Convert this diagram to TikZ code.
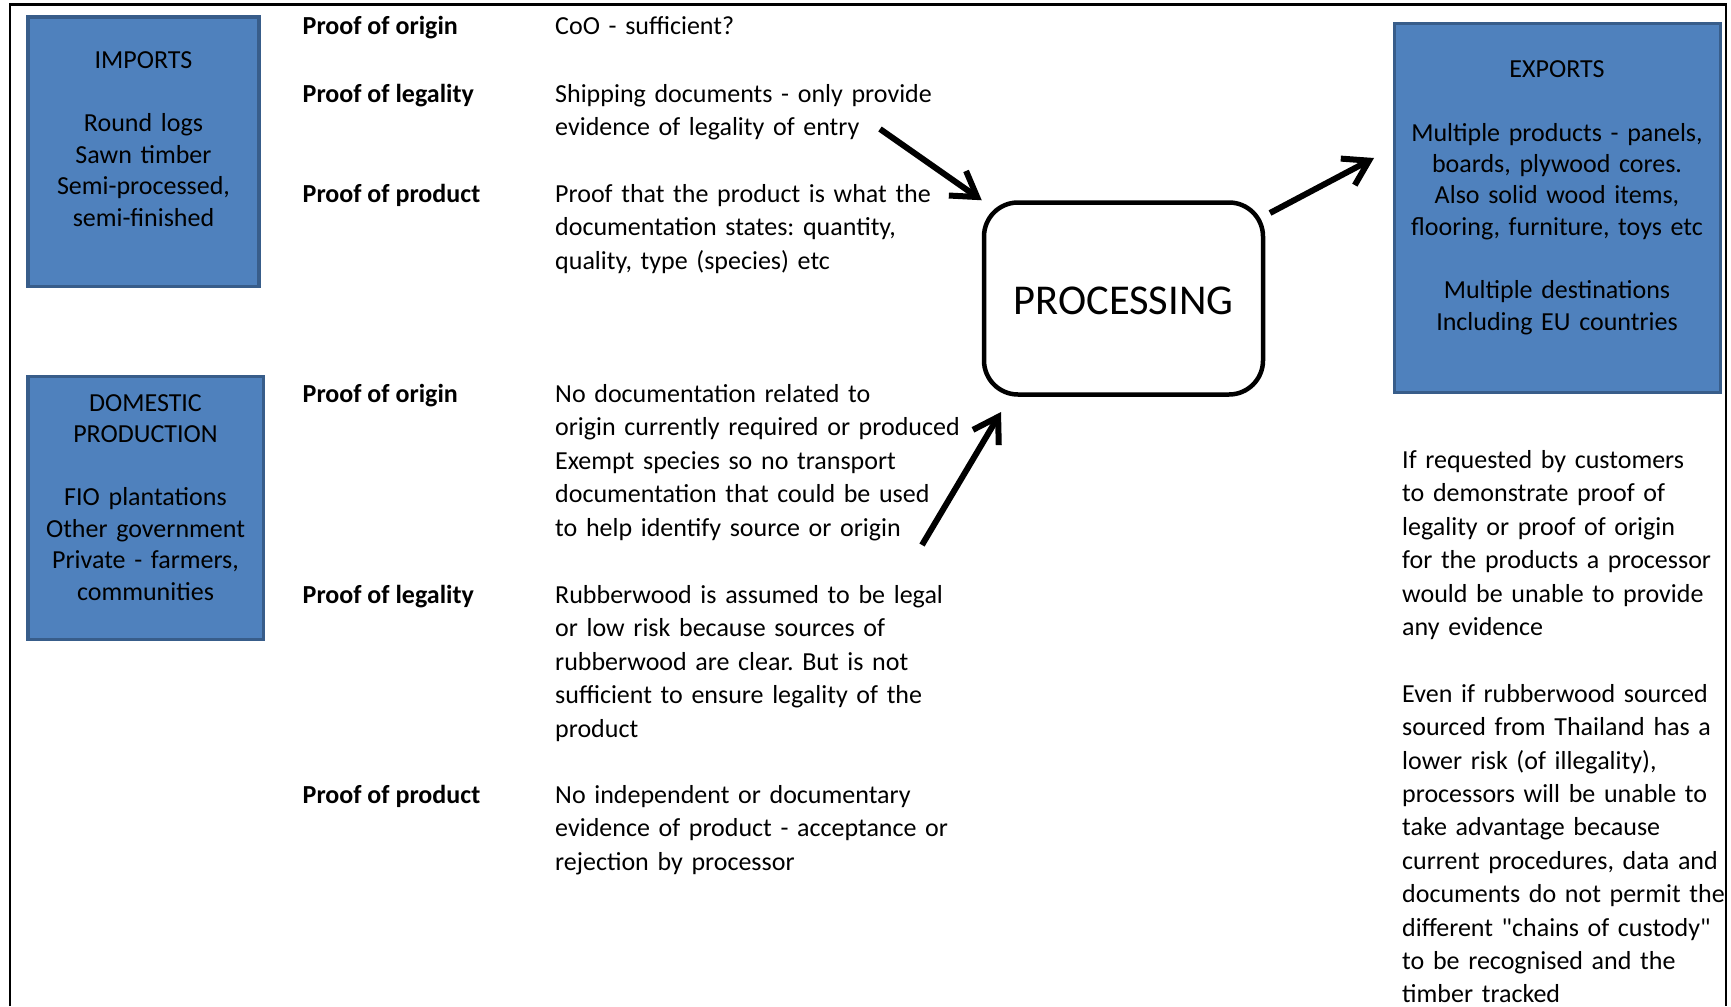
\documentclass[tikz,border=0pt]{standalone}
\usepackage{fontspec}
\setmainfont{Carlito}[Ligatures=TeXOff]
\usetikzlibrary{arrows.meta}
\definecolor{boxfill}{RGB}{79,129,189}
\definecolor{boxedge}{RGB}{56,93,138}
\frenchspacing
\begin{document}
\begin{tikzpicture}[x=1pt,y=-1pt,
  bluebox/.style={draw=boxedge, fill=boxfill, line width=3.5pt, inner sep=0pt, outer sep=0pt},
  boxtext/.style={font=\fontsize{26}{31.5}\selectfont, align=center, text width=320pt, inner sep=0pt, anchor=base},
  prooflabel/.style={font=\fontsize{26}{33.4}\selectfont\bfseries, inner sep=0pt, anchor=base west},
  desctext/.style={font=\fontsize{26}{33.4}\selectfont, align=left, text width=480pt, inner sep=0pt, anchor=base west},
  flow/.style={line width=6pt, -{Straight Barb[length=24pt,width=30pt]}},
  procbox/.style={draw, line width=4.5pt, rounded corners=34pt, inner sep=0pt,
    text height=31pt, text depth=0pt, font=\fontsize{42.5}{50}\selectfont}
]
\useasboundingbox (0,0) rectangle (1731,1006);

% outer frame
\draw[line width=2.5pt] (10,1006) -- (10,4.5) -- (1726,4.5) -- (1726,1006);

% source boxes
\node[bluebox, minimum width=231, minimum height=269.5] (imports) at (143.5,151.75) {};
\node[boxtext] (importsText) at (143.5,69)
  {IMPORTS\\\mbox{}\\Round logs\\Sawn timber\\Semi-processed,\\semi-finished};

\node[bluebox, minimum width=235.5, minimum height=263] (domestic) at (145.75,508) {};
\node[boxtext] (domesticText) at (145.5,411)
  {DOMESTIC\\PRODUCTION\\\mbox{}\\FIO plantations\\Other government\\Private - farmers,\\communities};

% export box
\node[bluebox, minimum width=326, minimum height=369] (exports) at (1557.5,208) {};
\node[boxtext] (exportsText) at (1557,78)
  {EXPORTS\\\mbox{}\\Multiple products - panels,\\boards, plywood cores.\\Also solid wood items,\\flooring, furniture, toys etc\\\mbox{}\\Multiple destinations\\Including EU countries};

% processing step
\node[procbox, minimum width=279, minimum height=192] (proc) at (1123.5,298.5) {PROCESSING};

% imports: documentation
\node[prooflabel] (impOrigin) at (302.5,34.5) {Proof of origin};
\node[prooflabel] (impLegal) at (302.5,102.5) {Proof of legality};
\node[prooflabel] (impProduct) at (302.5,202.5) {Proof of product};
\node[desctext] (impOriginDesc) at (555,34.5) {CoO - sufficient?};
\node[desctext] (impLegalDesc) at (555,102.5)
  {Shipping documents - only provide\\evidence of legality of entry};
\node[desctext] (impProductDesc) at (555,202.5)
  {Proof that the product is what the\\documentation states: quantity,\\quality, type (species) etc};

% domestic production: documentation
\node[prooflabel] (domOrigin) at (302.5,402.5) {Proof of origin};
\node[prooflabel] (domLegal) at (302.5,603.5) {Proof of legality};
\node[prooflabel] (domProduct) at (302.5,803.5) {Proof of product};
\node[desctext] (domOriginDesc) at (555,402.5)
  {No documentation related to\\origin currently required or produced\\Exempt species so no transport\\documentation that could be used\\to help identify source or origin};
\node[desctext] (domLegalDesc) at (555,603.5)
  {Rubberwood is assumed to be legal\\or low risk because sources of\\rubberwood are clear. But is not\\sufficient to ensure legality of the\\product};
\node[desctext] (domProductDesc) at (555,803.5)
  {No independent or documentary\\evidence of product - acceptance or\\rejection by processor};

% exports: notes
\node[desctext] (exportNote) at (1402,468.5)
  {If requested by customers\\to demonstrate proof of\\legality or proof of origin\\for the products a processor\\would be unable to provide\\any evidence\\\mbox{}\\Even if rubberwood sourced\\sourced from Thailand has a\\lower risk (of illegality),\\processors will be unable to\\take advantage because\\current procedures, data and\\documents do not permit the\\different "chains of custody"\\to be recognised and the\\timber tracked};

% flow arrows
\coordinate (inTopStart) at (880,129);
\coordinate (inLowStart) at (922,545);
\coordinate (inLowEnd) at (1001,412);
\coordinate (outStart) at (1270,213);
\coordinate (outEnd) at (1374,158);
\draw[flow] (inTopStart) -- (proc.north west);
\draw[flow] (inLowStart) -- (inLowEnd);
\draw[flow] (outStart) -- (outEnd);
\end{tikzpicture}
\end{document}
